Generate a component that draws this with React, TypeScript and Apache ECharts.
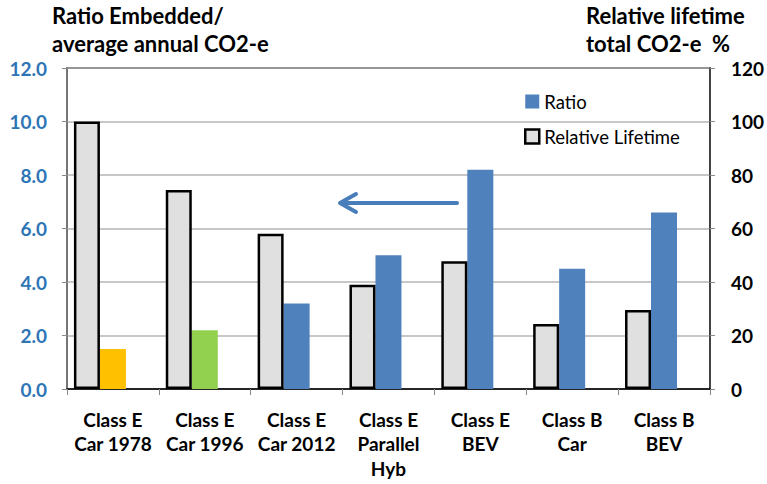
import React, { useEffect, useRef } from "react";
import * as echarts from "echarts";

const categories = [
  "Class E\nCar 1978",
  "Class E\nCar 1996",
  "Class E\nCar 2012",
  "Class E\nParallel\nHyb",
  "Class E\nBEV",
  "Class B\nCar",
  "Class B\nBEV",
];
const relativeLifetime = [100, 74.4, 58, 39, 47.8, 24.3, 29.5];
const ratio = [1.5, 2.2, 3.2, 5.0, 8.2, 4.5, 6.6];
const ratioColors = ["#ffc000", "#92d050", "#4f81bd", "#4f81bd", "#4f81bd", "#4f81bd", "#4f81bd"];
const leftTicks = { min: 0, max: 12, interval: 2 };
const rightTicks = { min: 0, max: 120, interval: 20 };

const FONT = "Lato";

export default function App() {
  const ref = useRef<HTMLDivElement>(null);
  useEffect(() => {
    if (!ref.current) return;
    const chart = echarts.init(ref.current, null, { renderer: "svg" });
    chart.setOption({
      animation: false,
      textStyle: { fontFamily: FONT },
      grid: {
        left: 67,
        right: 55,
        top: 68,
        bottom: 95,
        show: true,
        borderColor: "#000",
        borderWidth: 1.5,
        backgroundColor: "transparent",
      },
      legend: {
        orient: "vertical",
        left: 519,
        top: 87,
        itemWidth: 14,
        itemHeight: 14,
        itemGap: 16,
        textStyle: { fontFamily: FONT, fontSize: 18.5, color: "#000" },
        data: [
          { name: "Ratio", icon: "rect", itemStyle: { color: "#4f81bd", borderWidth: 0 } },
          {
            name: "Relative Lifetime",
            icon: "rect",
            itemStyle: { color: "#e0e0e0", borderColor: "#000", borderWidth: 2.5 },
          },
        ],
      },
      xAxis: {
        type: "category",
        data: categories,
        axisLine: { lineStyle: { color: "#000", width: 1.5 } },
        axisTick: { show: true, length: 6, lineStyle: { color: "#888" } },
        axisLabel: {
          fontFamily: FONT,
          fontSize: 19,
          fontWeight: "bold",
          color: "#000",
          lineHeight: 24.5,
          margin: 18,
          interval: 0,
        },
      },
      yAxis: [
        {
          type: "value",
          ...leftTicks,
          position: "left",
          axisLine: { show: true, lineStyle: { color: "#888", width: 1.5 } },
          axisTick: { show: true, length: 5, lineStyle: { color: "#888" } },
          splitLine: { lineStyle: { color: "#b4b4b4", width: 1.5 } },
          axisLabel: {
            fontFamily: FONT,
            fontSize: 19,
            fontWeight: "bold",
            color: "#2e75b6",
            margin: 20,
            formatter: (v: number) => v.toFixed(1),
          },
        },
        {
          type: "value",
          ...rightTicks,
          position: "right",
          axisLine: { show: true, lineStyle: { color: "#444", width: 1.5 } },
          axisTick: { show: true, length: 5, lineStyle: { color: "#888" } },
          splitLine: { show: false },
          axisLabel: {
            fontFamily: FONT,
            fontSize: 19,
            fontWeight: "bold",
            color: "#000",
            margin: 21,
          },
        },
      ],
      series: [
        {
          name: "Relative Lifetime",
          type: "bar",
          yAxisIndex: 1,
          barWidth: 26,
          barGap: "0%",
          z: 3,
          data: relativeLifetime,
          itemStyle: { color: "#e0e0e0", borderColor: "#000", borderWidth: 2.5 },
        },
        {
          name: "Ratio",
          type: "bar",
          yAxisIndex: 0,
          barWidth: 26,
          barGap: "0%",
          z: 2,
          data: ratio.map((v, i) => ({ value: v, itemStyle: { color: ratioColors[i] } })),
          itemStyle: { color: "#4f81bd" },
        },
        {
          name: "spacer",
          type: "bar",
          yAxisIndex: 0,
          barWidth: 26,
          barGap: "0%",
          silent: true,
          data: ratio.map(() => 0),
          itemStyle: { color: "transparent" },
        },
      ],
      graphic: [
        {
          type: "text",
          left: 52,
          top: 1,
          style: {
            text: "Ratio Embedded/\naverage annual CO2-e",
            fontFamily: FONT,
            fontSize: 22,
            fontWeight: "bold",
            lineHeight: 28,
            fill: "#000",
          },
        },
        {
          type: "text",
          left: 586,
          top: 1,
          style: {
            text: "Relative lifetime\ntotal CO2-e  %",
            fontFamily: FONT,
            fontSize: 22,
            fontWeight: "bold",
            lineHeight: 28,
            fill: "#000",
          },
        },
        {
          type: "line",
          shape: { x1: 457, y1: 203, x2: 341, y2: 203 },
          style: { stroke: "#4a7ebb", lineWidth: 4, lineCap: "round" },
        },
        {
          type: "polyline",
          shape: { points: [[356, 194], [340, 203], [356, 212]] },
          style: { stroke: "#4a7ebb", lineWidth: 4, lineCap: "round", lineJoin: "round", fill: "none" },
        },
      ],
    });
    return () => chart.dispose();
  }, []);
  return (
    <div
      ref={ref}
      style={{ position: "fixed", left: 0, top: 0, width: 767, height: 484, background: "#fff" }}
    />
  );
}
